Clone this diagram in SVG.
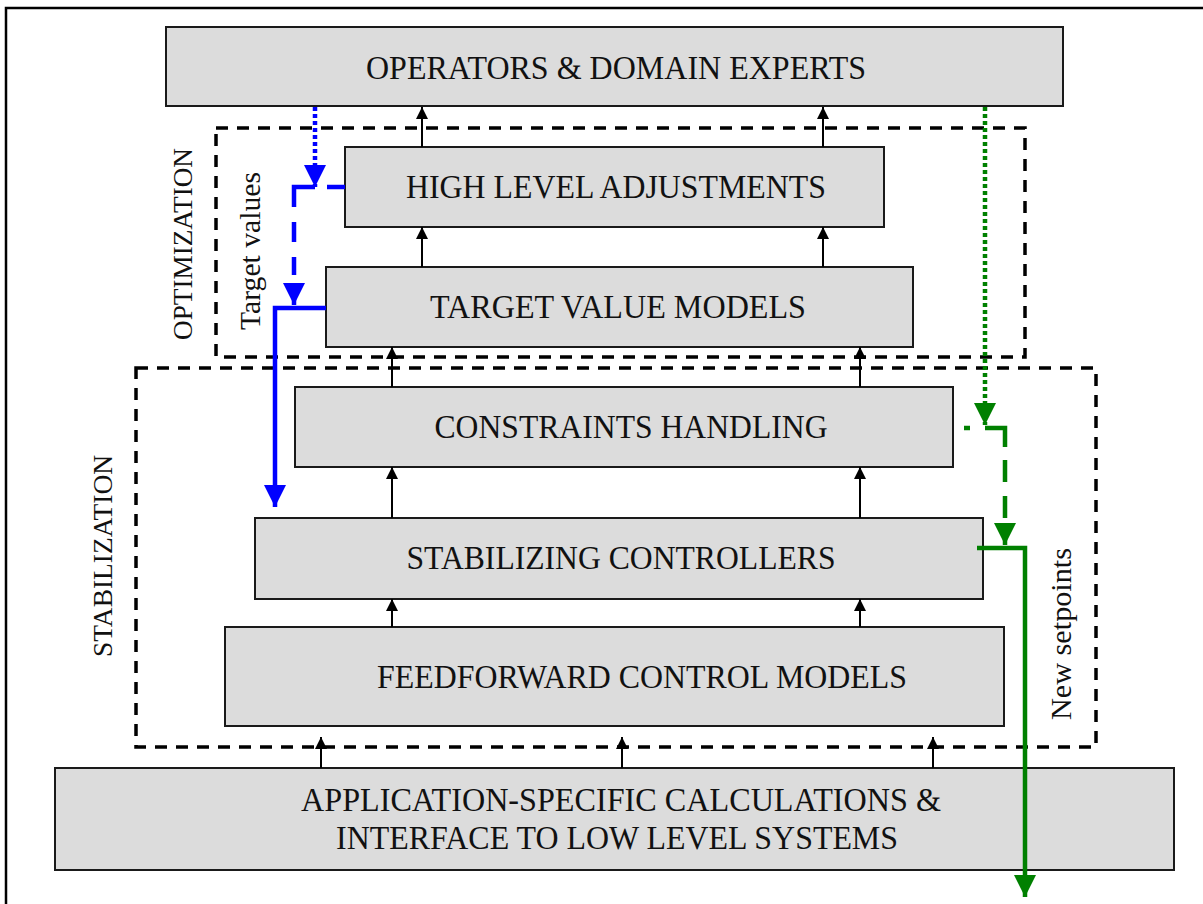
<svg xmlns="http://www.w3.org/2000/svg" width="1203" height="904" viewBox="0 0 1203 904">
  <style>
    .box { fill: #dcdcdc; stroke: #1a1a1a; stroke-width: 2; }
    .lbl { font-family: "Liberation Serif", "Times New Roman", serif; font-size: 34px; fill: #111; text-anchor: middle; }
    .vlbl { font-family: "Liberation Serif", "Times New Roman", serif; font-size: 28px; fill: #111; text-anchor: middle; }
    .zone { fill: none; stroke: #000; stroke-width: 3.5; stroke-dasharray: 12 9; }
    .up { stroke: #000; stroke-width: 2; fill: none; marker-end: url(#headBlack); }
    .blue { stroke: #0000ff; stroke-width: 4.5; fill: none; marker-end: url(#headBlue); }
    .green { stroke: #008000; stroke-width: 4.5; fill: none; marker-end: url(#headGreen); }
    .dotted { stroke-dasharray: 4 3; }
  </style>
  <defs>
    <marker id="headBlack" markerUnits="userSpaceOnUse" markerWidth="12" markerHeight="12" refX="12" refY="6" orient="auto">
      <path d="M0,0 L12,6 L0,12 Z" fill="#000"/>
    </marker>
    <marker id="headBlue" markerUnits="userSpaceOnUse" markerWidth="22" markerHeight="22" refX="22" refY="11" orient="auto">
      <path d="M0,0 L22,11 L0,22 Z" fill="#0000ff"/>
    </marker>
    <marker id="headGreen" markerUnits="userSpaceOnUse" markerWidth="22" markerHeight="22" refX="22" refY="11" orient="auto">
      <path d="M0,0 L22,11 L0,22 Z" fill="#008000"/>
    </marker>
  </defs>

  <rect width="1203" height="904" fill="#fff"/>
  <!-- page frame (top and left edges) -->
  <path d="M6,904 V8 H1203" fill="none" stroke="#000" stroke-width="2.5"/>

  <!-- grouping zones -->
  <g id="zone-optimization">
    <rect class="zone" x="216" y="128" width="809" height="229"/>
    <text class="vlbl" transform="translate(192,244) rotate(-90)" textLength="192" lengthAdjust="spacingAndGlyphs">OPTIMIZATION</text>
  </g>
  <g id="zone-stabilization">
    <rect class="zone" x="136" y="368" width="960" height="379"/>
    <text class="vlbl" transform="translate(112,556) rotate(-90)" textLength="202" lengthAdjust="spacingAndGlyphs">STABILIZATION</text>
  </g>

  <!-- nodes -->
  <g id="operators">
    <rect class="box" x="166" y="27" width="897" height="79"/>
    <text class="lbl" x="616" y="79" textLength="500" lengthAdjust="spacingAndGlyphs">OPERATORS &amp; DOMAIN EXPERTS</text>
  </g>
  <g id="high-level">
    <rect class="box" x="345" y="147" width="539" height="80"/>
    <text class="lbl" x="616" y="198" textLength="420" lengthAdjust="spacingAndGlyphs">HIGH LEVEL ADJUSTMENTS</text>
  </g>
  <g id="target-models">
    <rect class="box" x="326" y="267" width="587" height="80"/>
    <text class="lbl" x="618" y="318" textLength="376" lengthAdjust="spacingAndGlyphs">TARGET VALUE MODELS</text>
  </g>
  <g id="constraints">
    <rect class="box" x="295" y="387" width="658" height="80"/>
    <text class="lbl" x="631" y="438" textLength="393" lengthAdjust="spacingAndGlyphs">CONSTRAINTS HANDLING</text>
  </g>
  <g id="stabilizing">
    <rect class="box" x="255" y="518" width="728" height="81"/>
    <text class="lbl" x="621" y="569" textLength="429" lengthAdjust="spacingAndGlyphs">STABILIZING CONTROLLERS</text>
  </g>
  <g id="feedforward">
    <rect class="box" x="225" y="627" width="779" height="99"/>
    <text class="lbl" x="642" y="688" textLength="530" lengthAdjust="spacingAndGlyphs">FEEDFORWARD CONTROL MODELS</text>
  </g>
  <g id="application">
    <rect class="box" x="55" y="768" width="1119" height="102"/>
    <text class="lbl" x="621" y="811" textLength="640" lengthAdjust="spacingAndGlyphs">APPLICATION-SPECIFIC CALCULATIONS &amp;</text>
    <text class="lbl" x="617" y="849" textLength="562" lengthAdjust="spacingAndGlyphs">INTERFACE TO LOW LEVEL SYSTEMS</text>
  </g>

  <!-- side labels of the feedback paths -->
  <g id="labels">
    <text class="vlbl" transform="translate(260,251) rotate(-90)" style="font-size:30px" textLength="158" lengthAdjust="spacingAndGlyphs">Target values</text>
    <text class="vlbl" transform="translate(1071,634) rotate(-90)" style="font-size:30px" textLength="172" lengthAdjust="spacingAndGlyphs">New setpoints</text>
  </g>

  <!-- connectors -->
  <g id="connectors">
    <!-- upward information flow -->
    <line class="up" x1="422" y1="147" x2="422" y2="107"/>
    <line class="up" x1="823" y1="147" x2="823" y2="107"/>
    <line class="up" x1="422" y1="267" x2="422" y2="227"/>
    <line class="up" x1="823" y1="267" x2="823" y2="227"/>
    <line class="up" x1="392" y1="387" x2="392" y2="347"/>
    <line class="up" x1="860" y1="387" x2="860" y2="347"/>
    <line class="up" x1="392" y1="518" x2="392" y2="467"/>
    <line class="up" x1="860" y1="518" x2="860" y2="467"/>
    <line class="up" x1="392" y1="627" x2="392" y2="599"/>
    <line class="up" x1="860" y1="627" x2="860" y2="599"/>
    <line class="up" x1="321" y1="768" x2="321" y2="737"/>
    <line class="up" x1="622" y1="768" x2="622" y2="737"/>
    <line class="up" x1="933" y1="768" x2="933" y2="737"/>

    <!-- target values path (blue) -->
    <path class="blue dotted" d="M315,107 V187"/>
    <path class="blue" d="M345,187 H294 V305" stroke-dasharray="18 12 41 15 20 15"/>
    <path class="blue" d="M326,308 H275 V507"/>

    <!-- new setpoints path (green) -->
    <path class="green dotted" d="M985,107 V425"/>
    <line x1="964" y1="428" x2="970" y2="428" stroke="#008000" stroke-width="4.5"/>
    <path class="green" d="M985,428 H1005 V545" stroke-dasharray="39 13 22 14 22 14"/>
    <path class="green" d="M977,548 H1025 V897"/>
  </g>
</svg>
